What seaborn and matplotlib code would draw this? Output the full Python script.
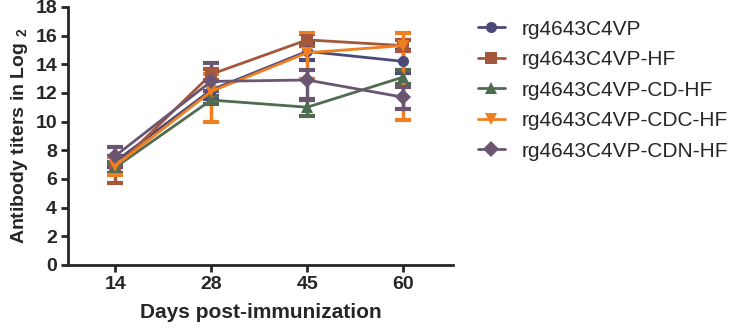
import matplotlib
matplotlib.use("Agg")

import matplotlib.pyplot as plt
import numpy as np
import pandas as pd
import seaborn as sns

# ---------------------------------------------------------------------------
# Data
# ---------------------------------------------------------------------------

DAYS = ["14", "28", "45", "60"]
GROUPS = [
    "rg4643C4VP",
    "rg4643C4VP-HF",
    "rg4643C4VP-CD-HF",
    "rg4643C4VP-CDC-HF",
    "rg4643C4VP-CDN-HF",
]

mean_c4vp = [7.2, 12.2, 14.9, 14.2]
mean_hf   = [6.8, 13.3, 15.7, 15.3]
mean_cd   = [6.8, 11.5, 11.0, 13.1]
mean_cdc  = [6.9, 12.1, 14.8, 15.3]
mean_cdn  = [7.6, 12.8, 12.9, 11.7]

# error bars: (lower, upper)
err_c4vp = ([0.4, 0.6, 0.6, 0.8], [0.4, 0.6, 0.6, 0.8])
err_hf   = ([1.1, 0.4, 0.4, 0.4], [0.4, 0.4, 0.4, 0.4])
err_cd   = ([0.4, 0.3, 0.6, 0.5], [0.4, 0.3, 0.6, 0.5])
err_cdc  = ([0.6, 2.1, 1.8, 5.2], [0.6, 1.2, 1.4, 0.9])
err_cdn  = ([0.6, 0.7, 1.4, 0.8], [0.6, 1.3, 0.7, 0.7])

MEANS = [mean_c4vp, mean_hf, mean_cd, mean_cdc, mean_cdn]
ERRS  = [err_c4vp, err_hf, err_cd, err_cdc, err_cdn]

COLORS  = ["#4C4A78", "#A5573C", "#4F6B50", "#F07F22", "#6B5672"]
MARKERS = ["o", "s", "^", "v", "D"]

rows = []
for g, m in zip(GROUPS, MEANS):
    for d, v in zip(DAYS, m):
        rows.append({"day": d, "titer": v, "group": g})
df = pd.DataFrame(rows)

# ---------------------------------------------------------------------------
# Plot
# ---------------------------------------------------------------------------

sns.set_style("ticks")
plt.rcParams["font.family"] = ["Liberation Sans", "DejaVu Sans"]
plt.rcParams["mathtext.fontset"] = "custom"
plt.rcParams["mathtext.bf"] = "Liberation Sans:bold"

fig = plt.figure(figsize=(7.33, 3.29), dpi=100)
ax = fig.add_axes([0.093, 0.195, 0.525, 0.784])

palette = dict(zip(GROUPS, COLORS))
markers = dict(zip(GROUPS, MARKERS))

for g, m, (lo, hi) in zip(GROUPS, MEANS, ERRS):
    ax.errorbar(DAYS, m, yerr=[lo, hi], fmt="none", ecolor=palette[g],
                elinewidth=2.5, capsize=6, capthick=3, zorder=2)

sns.lineplot(data=df, x="day", y="titer", hue="group", style="group",
             palette=palette, markers=markers, dashes=False, sort=False,
             linewidth=2.0, markersize=8, markeredgewidth=0, ax=ax,
             zorder=3)

ax.set_xlim(-0.49, 3.52)
ax.set_ylim(0, 18)
ax.set_yticks(np.arange(0, 19, 2))
for side in ["top", "right"]:
    ax.spines[side].set_visible(False)
for side in ["left", "bottom"]:
    ax.spines[side].set_linewidth(2)
ax.tick_params(axis="both", width=2, length=5, labelsize=14, pad=3)
for lbl in ax.get_xticklabels() + ax.get_yticklabels():
    lbl.set_fontweight("bold")

ax.set_xlabel("Days post-immunization", fontsize=15, fontweight="bold", labelpad=7)
ax.set_ylabel(r"Antibody titers in Log $_{\mathbf{2}}$", fontsize=14,
              fontweight="bold", labelpad=4)

leg = ax.legend(loc="upper left", bbox_to_anchor=(0.652, 0.94),
                bbox_transform=fig.transFigure, frameon=False,
                fontsize=15, handlelength=1.3, labelspacing=0.55,
                handletextpad=0.8, borderpad=0, borderaxespad=0)

fig.savefig("out.png", dpi=100)
plt.close(fig)
